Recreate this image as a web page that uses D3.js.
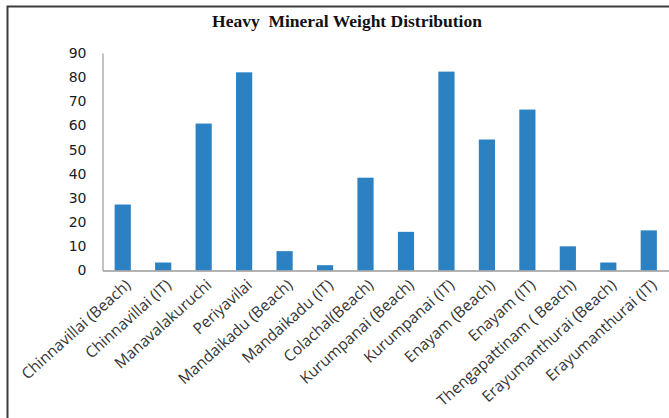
<!DOCTYPE html>
<html>
<head>
<meta charset="utf-8">
<script src="https://cdn.jsdelivr.net/npm/d3@7/dist/d3.min.js"></script>
<style>
  html, body { margin: 0; padding: 0; background: #fff; }
  svg { display: block; }
</style>
</head>
<body>
<svg id="chart" width="669" height="418"></svg>
<script>
// Sampling sites along the coast
const categories = [
  "Chinnavillai (Beach)", "Chinnavillai (IT)", "Manavalakuruchi", "Periyavilai",
  "Mandaikadu (Beach)", "Mandaikadu (IT)", "Colachal(Beach)", "Kurumpanai (Beach)",
  "Kurumpanai (IT)", "Enayam (Beach)", "Enayam (IT)", "Thengapattinam ( Beach)",
  "Erayumanthurai (Beach)", "Erayumanthurai (IT)"
];
// Heavy mineral weight per site
const weights = [27.3, 3.3, 60.8, 82.0, 8.0, 2.2, 38.4, 16.0, 82.3, 54.2, 66.6, 10.0, 3.3, 16.6];
// Vertical axis ticks
const yTicks = [0, 10, 20, 30, 40, 50, 60, 70, 80, 90];
const title = "Heavy  Mineral Weight Distribution";

const svg = d3.select("#chart");
const W = 669, H = 418;
const plot = { left: 102.5, right: 669, top: 53, bottom: 270.5 };

// Frame around the chart area
svg.append("path")
  .attr("d", `M7.5,${H} V6.5 H${W}`)
  .attr("fill", "none")
  .attr("stroke", "#3c3c3c")
  .attr("stroke-width", 2);

// Title
svg.append("text")
  .attr("x", 347).attr("y", 27)
  .attr("text-anchor", "middle")
  .attr("font-family", "'Liberation Serif', 'Times New Roman', serif")
  .attr("font-weight", "bold")
  .attr("font-size", 17.5)
  .attr("fill", "#111")
  .style("white-space", "pre")
  .text(title);

const x = d3.scaleBand()
  .domain(categories)
  .range([plot.left, plot.right])
  .paddingInner(0.6)
  .paddingOuter(0.3);

const y = d3.scaleLinear()
  .domain([0, 90])
  .range([plot.bottom, plot.top]);

// Bars
svg.append("g")
  .selectAll("rect")
  .data(categories)
  .join("rect")
  .attr("x", d => x(d))
  .attr("width", x.bandwidth())
  .attr("y", (d, i) => y(weights[i]))
  .attr("height", (d, i) => y(0) - y(weights[i]))
  .attr("fill", "#2c81c2");

// Y axis
const yAxis = svg.append("g")
  .attr("transform", `translate(${plot.left},0)`)
  .call(d3.axisLeft(y).tickValues(yTicks).tickSize(0).tickPadding(16));
yAxis.select(".domain").attr("stroke", "#9a9a9a").attr("stroke-width", 1.2);
yAxis.selectAll("text")
  .attr("font-family", "'DejaVu Sans', Verdana, sans-serif")
  .attr("font-size", 14)
  .attr("fill", "#1a1a2a");

// X axis
const xAxis = svg.append("g")
  .attr("transform", `translate(0,${plot.bottom})`)
  .call(d3.axisBottom(x).tickSize(0).tickPadding(0));
xAxis.select(".domain").attr("stroke", "#9a9a9a").attr("stroke-width", 1.5);
xAxis.selectAll("text")
  .attr("font-family", "'Open Sans', 'Liberation Sans', sans-serif")
  .attr("font-size", 15.5)
  .attr("fill", "#333")
  .attr("text-anchor", "end")
  .attr("dy", "0")
  .attr("transform", "translate(9,16) rotate(-42)");
</script>
</body>
</html>
